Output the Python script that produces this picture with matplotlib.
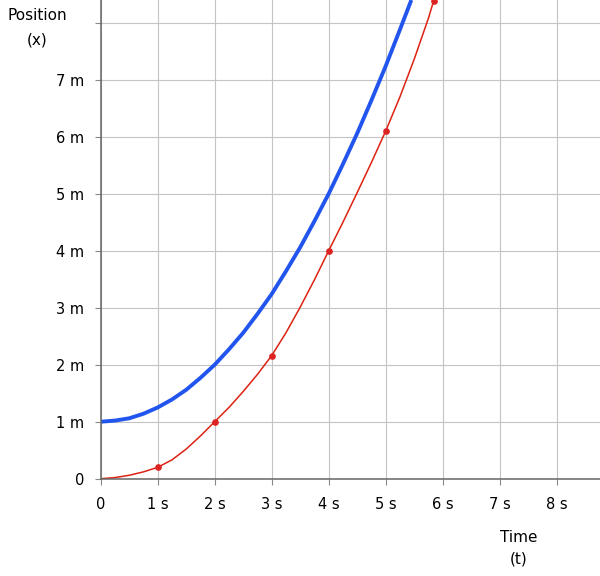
import matplotlib
matplotlib.use("Agg")
import matplotlib.pyplot as plt

# Blue curve
blue_t = [0, 0.25, 0.5, 0.75, 1.0, 1.25, 1.5, 1.75, 2.0, 2.25, 2.5, 2.75, 3.0, 3.25,
          3.5, 3.75, 4.0, 4.25, 4.5, 4.75, 5.0, 5.25, 5.45]
blue_x = [1.0, 1.02, 1.06, 1.14, 1.25, 1.39, 1.56, 1.77, 2.0, 2.27, 2.56, 2.89, 3.24, 3.64,
          4.06, 4.52, 5.0, 5.52, 6.06, 6.64, 7.24, 7.88, 8.4]

# Red curve
red_t = [0, 0.25, 0.5, 0.75, 1.0, 1.25, 1.5, 1.75, 2.0, 2.25, 2.5, 2.75, 3.0, 3.25,
         3.5, 3.75, 4.0, 4.25, 4.5, 4.75, 5.0, 5.25, 5.5, 5.75, 5.84]
red_x = [0.0, 0.02, 0.06, 0.12, 0.2, 0.33, 0.52, 0.75, 1.0, 1.25, 1.53, 1.83, 2.16, 2.56,
         3.01, 3.49, 4.0, 4.5, 5.02, 5.55, 6.1, 6.7, 7.36, 8.08, 8.38]

# Red dots
dot_t = [1, 2, 3, 4, 5, 5.84]
dot_x = [0.2, 1.0, 2.16, 4.0, 6.1, 8.38]

x_ticks = [0, 1, 2, 3, 4, 5, 6, 7, 8]
x_labels = ["0", "1 s", "2 s", "3 s", "4 s", "5 s", "6 s", "7 s", "8 s"]
y_ticks = [0, 1, 2, 3, 4, 5, 6, 7, 8]
y_labels = ["0", "1 m", "2 m", "3 m", "4 m", "5 m", "6 m", "7 m", ""]

fig = plt.figure(figsize=(6.0, 5.76), dpi=100)
ax = fig.add_axes([0.1678, 0.1689, 1 - 0.1678, 1 - 0.1689])

ax.set_xlim(0, 8.76)
ax.set_ylim(0, 8.4)

ax.grid(True, color="#c4c4c4", linewidth=0.8)
ax.set_axisbelow(True)

for s in ["top", "right"]:
    ax.spines[s].set_visible(False)
for s in ["left", "bottom"]:
    ax.spines[s].set_color("#666666")
    ax.spines[s].set_linewidth(1.1)

ax.set_xticks(x_ticks)
ax.set_xticklabels(x_labels)
ax.set_yticks(y_ticks)
ax.set_yticklabels(y_labels)
ax.tick_params(axis="both", colors="#888888", length=4, width=0.8, labelcolor="black",
               labelsize=10.5)
ax.tick_params(axis="x", pad=9)
ax.tick_params(axis="y", pad=8)

ax.plot(blue_t, blue_x, color="#2255ee", linewidth=2.8, solid_capstyle="butt")
ax.plot(red_t, red_x, color="#dd2211", linewidth=1.1, solid_joinstyle="round")
ax.plot(dot_t, dot_x, linestyle="none", marker="o", markersize=3.8, color="#dd2222")

fig.text(37 / 600, 1 - 15.5 / 576, "Position", ha="center", va="center", fontsize=11)
fig.text(37 / 600, 1 - 40 / 576, "(x)", ha="center", va="center", fontsize=11)
fig.text(519 / 600, 1 - 537 / 576, "Time", ha="center", va="center", fontsize=11)
fig.text(519 / 600, 1 - 559 / 576, "(t)", ha="center", va="center", fontsize=11)

fig.savefig("out.png", dpi=100)
